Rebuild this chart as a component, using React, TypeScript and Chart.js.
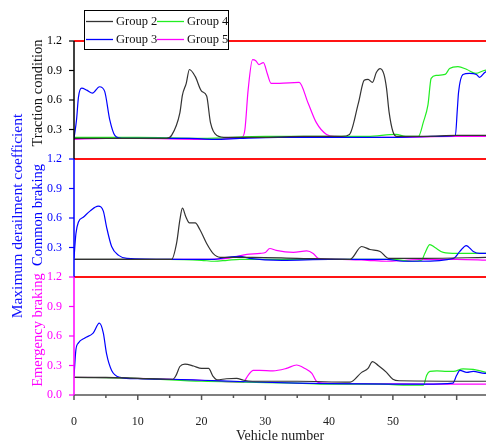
import React, { useEffect, useRef } from 'react';
import { Chart, registerables } from 'chart.js';

Chart.register(...registerables);

// ---------- data (values in each panel's own 0–1.2 units) ----------
const groupNames = ['Group 2', 'Group 3', 'Group 4', 'Group 5'];
const groupColors = ['#333333', '#0000ff', '#22ee22', '#ff00ff'];
const panelTitles = ['Emergency braking', 'Common braking', 'Traction condition'];
const panelColors = ['#ff00ff', '#0000ff', '#000000'];
const xMax = 64.6;
const panelSpan = 1.2;
const xTickStep = 5;
const yTickStep = 0.3;

type Pt = [number, number];

// Traction condition
const tractionG2: Pt[] = [[0, 0.21], [5, 0.21], [10, 0.21], [14.5, 0.21], [15.3, 0.24], [16.6, 0.47], [17.0, 0.65], [17.6, 0.77], [18.1, 0.91], [19.0, 0.84], [20.0, 0.69], [20.8, 0.64], [21.4, 0.37], [22.4, 0.24], [24, 0.22], [30, 0.22], [36, 0.23], [42, 0.23], [43.2, 0.25], [44.6, 0.57], [45.5, 0.8], [46.1, 0.81], [46.8, 0.78], [47.4, 0.88], [48.0, 0.92], [48.6, 0.86], [49.0, 0.72], [49.4, 0.48], [50.0, 0.28], [50.6, 0.23], [55, 0.23], [60, 0.24], [65, 0.24]];
const tractionG3: Pt[] = [[0, 0.21], [0.4, 0.4], [0.7, 0.63], [1.2, 0.72], [2.0, 0.7], [2.9, 0.67], [4.0, 0.735], [4.8, 0.69], [5.6, 0.4], [6.4, 0.24], [7.5, 0.21], [12, 0.21], [18, 0.21], [22, 0.2], [26, 0.21], [32, 0.22], [40, 0.22], [50, 0.22], [56, 0.23], [59.8, 0.24], [60.1, 0.5], [60.3, 0.68], [61.0, 0.86], [62.0, 0.87], [63.1, 0.86], [63.6, 0.83], [64.4, 0.88], [65, 0.9]];
const tractionG4: Pt[] = [[0, 0.22], [10, 0.22], [20, 0.21], [30, 0.23], [40, 0.23], [46, 0.23], [50.5, 0.25], [52, 0.23], [54, 0.23], [54.8, 0.38], [55.5, 0.55], [56.0, 0.82], [56.8, 0.85], [58.2, 0.86], [58.9, 0.92], [60.2, 0.94], [61.6, 0.91], [63.0, 0.87], [64.3, 0.9], [65, 0.91]];
const tractionG5: Pt[] = [[0, 0.2], [5, 0.21], [10, 0.21], [20, 0.2], [25, 0.21], [26.3, 0.22], [26.8, 0.3], [27.3, 0.7], [28.0, 1.01], [28.5, 1.0], [29.0, 0.96], [29.7, 0.98], [30.3, 0.87], [30.9, 0.77], [32.2, 0.77], [35.3, 0.78], [36.7, 0.57], [38.0, 0.37], [39.6, 0.25], [41, 0.23], [50, 0.22], [60, 0.23], [65, 0.23]];

// Common braking
const commonG2: Pt[] = [[0, 0.18], [10, 0.18], [15.3, 0.18], [16.1, 0.35], [16.6, 0.58], [17.0, 0.7], [17.55, 0.61], [18.1, 0.55], [19.0, 0.55], [19.75, 0.48], [20.8, 0.34], [21.8, 0.24], [22.9, 0.2], [28, 0.2], [35, 0.19], [43.3, 0.18], [45.1, 0.31], [46.4, 0.28], [48, 0.26], [49.3, 0.19], [55, 0.19], [65, 0.2]];
const commonG3: Pt[] = [[0, 0.19], [0.3, 0.44], [0.7, 0.56], [1.5, 0.61], [2.5, 0.67], [3.8, 0.72], [4.6, 0.67], [5.1, 0.51], [5.9, 0.31], [7.0, 0.22], [8.3, 0.19], [15, 0.18], [22, 0.18], [24, 0.2], [26, 0.21], [27.5, 0.19], [32.6, 0.17], [40, 0.18], [45, 0.18], [49, 0.18], [51.6, 0.16], [54.2, 0.16], [59.5, 0.19], [60.5, 0.26], [61.5, 0.32], [62.6, 0.26], [63.6, 0.24], [65, 0.24]];
const commonG4: Pt[] = [[0, 0.18], [15, 0.18], [20, 0.17], [22, 0.16], [24, 0.17], [26, 0.18], [35, 0.18], [45, 0.18], [50, 0.18], [53, 0.16], [54.5, 0.17], [55.0, 0.24], [55.8, 0.33], [56.6, 0.3], [57.9, 0.25], [60, 0.24], [65, 0.24]];
const commonG5: Pt[] = [[0, 0.18], [10, 0.18], [20, 0.18], [24, 0.19], [27.1, 0.23], [29.2, 0.24], [30, 0.25], [30.7, 0.29], [31.7, 0.27], [34.4, 0.25], [36.5, 0.265], [37.5, 0.24], [38.3, 0.19], [42, 0.18], [46, 0.17], [49, 0.16], [52, 0.17], [55, 0.18], [60, 0.18], [65, 0.17]];

// Emergency braking
const emergencyG2: Pt[] = [[0, 0.18], [5, 0.18], [10, 0.17], [15.5, 0.16], [16.0, 0.2], [16.6, 0.29], [17.4, 0.315], [18.75, 0.295], [20.0, 0.27], [21.1, 0.27], [21.8, 0.19], [22.4, 0.155], [23.9, 0.165], [25.5, 0.17], [26.6, 0.15], [28, 0.14], [35, 0.14], [43.3, 0.13], [45.1, 0.23], [46.1, 0.27], [46.8, 0.34], [47.7, 0.3], [49.0, 0.23], [50.0, 0.16], [51, 0.145], [65, 0.14]];
const emergencyG3: Pt[] = [[0, 0.19], [0.3, 0.46], [0.7, 0.53], [1.7, 0.58], [3.0, 0.63], [3.97, 0.73], [4.6, 0.63], [5.1, 0.42], [5.9, 0.25], [7.2, 0.18], [10, 0.165], [15, 0.16], [20, 0.15], [27, 0.135], [35, 0.12], [40, 0.115], [50, 0.11], [55, 0.11], [59.4, 0.12], [60.0, 0.2], [60.5, 0.25], [61.6, 0.23], [62.6, 0.24], [64.4, 0.22], [65, 0.22]];
const emergencyG4: Pt[] = [[0, 0.18], [10, 0.17], [20, 0.14], [27, 0.13], [35, 0.12], [40, 0.11], [48, 0.11], [52, 0.1], [54.8, 0.1], [55.3, 0.2], [55.8, 0.24], [56.9, 0.245], [58.5, 0.24], [59.5, 0.24], [61.0, 0.265], [62.6, 0.26], [64.6, 0.23], [65, 0.22]];
const emergencyG5: Pt[] = [[0, 0.18], [10, 0.17], [20, 0.15], [26.5, 0.13], [27.3, 0.2], [28.1, 0.25], [29.1, 0.25], [31.2, 0.245], [33.3, 0.27], [34.9, 0.305], [36.2, 0.27], [37.3, 0.22], [38.0, 0.14], [39, 0.12], [45, 0.115], [55, 0.11], [65, 0.11]];

const panels: Pt[][][] = [
  [emergencyG2, emergencyG3, emergencyG4, emergencyG5],
  [commonG2, commonG3, commonG4, commonG5],
  [tractionG2, tractionG3, tractionG4, tractionG5],
];

const FONT = "'Liberation Serif', 'Times New Roman', serif";

const tickIndex = (v: number) => Math.round(v / yTickStep);
const panelOfTick = (n: number) => (n <= 4 ? 0 : Math.min(2, Math.floor((n - 1) / 4)));

const decor = {
  id: 'decor',
  beforeDatasetsDraw(chart: any) {
    const { ctx, chartArea: a, scales } = chart;
    const y = scales.y;
    ctx.save();
    ctx.strokeStyle = '#ff1414';
    ctx.lineWidth = 2;
    for (let i = 1; i <= 3; i++) {
      const py = y.getPixelForValue(i * panelSpan);
      ctx.beginPath();
      ctx.moveTo(a.left, py);
      ctx.lineTo(a.right, py);
      ctx.stroke();
    }
    ctx.restore();
  },
  afterDraw(chart: any) {
    const { ctx, chartArea: a, scales } = chart;
    const x = scales.x;
    const y = scales.y;
    ctx.save();
    // x axis
    ctx.strokeStyle = '#555555';
    ctx.lineWidth = 1.5;
    ctx.beginPath();
    ctx.moveTo(a.left, a.bottom);
    ctx.lineTo(a.right, a.bottom);
    ctx.stroke();
    for (let v = 0; v <= xMax; v += xTickStep) {
      const px = x.getPixelForValue(v);
      const len = v % 10 === 0 ? 5 : 3;
      ctx.beginPath();
      ctx.moveTo(px, a.bottom);
      ctx.lineTo(px, a.bottom + len);
      ctx.stroke();
    }
    // y axis segments
    for (let i = 0; i < 3; i++) {
      ctx.strokeStyle = panelColors[i];
      ctx.lineWidth = 1.5;
      ctx.beginPath();
      ctx.moveTo(a.left, y.getPixelForValue(i * panelSpan));
      ctx.lineTo(a.left, y.getPixelForValue((i + 1) * panelSpan));
      ctx.stroke();
    }
    for (let n = 0; n <= 12; n++) {
      const py = y.getPixelForValue(n * yTickStep);
      ctx.strokeStyle = panelColors[panelOfTick(n)];
      ctx.lineWidth = 1.2;
      ctx.beginPath();
      ctx.moveTo(a.left - 5, py);
      ctx.lineTo(a.left, py);
      ctx.stroke();
    }
    // y titles
    const vtext = (t: string, cx: number, cy: number, color: string, size: number) => {
      ctx.save();
      ctx.translate(cx, cy);
      ctx.rotate(-Math.PI / 2);
      ctx.fillStyle = color;
      ctx.font = `${size}px ${FONT}`;
      ctx.textAlign = 'center';
      ctx.textBaseline = 'middle';
      ctx.fillText(t, 0, 0);
      ctx.restore();
    };
    vtext('Maximum derailment coefficient', 18, 216, '#1010ff', 15.5);
    const titleY = [330, 215, 93];
    for (let i = 0; i < 3; i++) vtext(panelTitles[i], 38, titleY[i], panelColors[i] === '#000000' ? '#111111' : panelColors[i], 14.5);
    // legend
    const lx = 84, ly = 10, lw = 144, lh = 39;
    ctx.fillStyle = '#ffffff';
    ctx.fillRect(lx, ly, lw, lh);
    ctx.strokeStyle = '#000000';
    ctx.lineWidth = 1;
    ctx.strokeRect(lx + 0.5, ly + 0.5, lw, lh);
    ctx.font = `12.5px ${FONT}`;
    ctx.textBaseline = 'middle';
    ctx.textAlign = 'left';
    const cols = [86, 157];
    const rows = [21.5, 39.5];
    for (let g = 0; g < 4; g++) {
      const c = g >= 2 ? 1 : 0;
      const r = g % 2;
      ctx.strokeStyle = groupColors[g];
      ctx.lineWidth = 1.3;
      ctx.beginPath();
      ctx.moveTo(cols[c], rows[r]);
      ctx.lineTo(cols[c] + 27, rows[r]);
      ctx.stroke();
      ctx.fillStyle = '#111111';
      ctx.fillText(groupNames[g], cols[c] + 30, rows[r] + 0.5);
    }
    ctx.restore();
  },
};

export default function App() {
  const ref = useRef<HTMLCanvasElement>(null);
  useEffect(() => {
    if (!ref.current) return;
    const datasets: any[] = [];
    panels.forEach((series, p) => {
      series.forEach((pts, g) => {
        datasets.push({
          label: `${groupNames[g]} ${panelTitles[p]}`,
          data: pts.map(([vx, vy]) => ({ x: vx, y: vy + p * panelSpan })),
          borderColor: groupColors[g],
          borderWidth: 1.2,
          pointRadius: 0,
          fill: false,
          cubicInterpolationMode: 'monotone',
        });
      });
    });
    const chart = new Chart(ref.current, {
      type: 'line',
      data: { datasets },
      options: {
        responsive: false,
        animation: false,
        layout: { padding: { left: 0, right: 0, top: 41, bottom: 0 } },
        plugins: { legend: { display: false }, tooltip: { enabled: false } },
        scales: {
          x: {
            type: 'linear',
            min: 0,
            max: xMax,
            afterFit: (s: any) => { s.height = 52; },
            afterBuildTicks: (s: any) => {
              s.ticks = s.ticks.filter((t: any) => Math.abs(t.value / xTickStep - Math.round(t.value / xTickStep)) < 1e-6);
            },
            grid: { display: false },
            border: { display: false },
            ticks: {
              stepSize: xTickStep,
              autoSkip: false,
              maxRotation: 0,
              padding: 12,
              color: '#222222',
              font: { family: FONT, size: 12 },
              callback: (v: any) => (Math.round(v) % 10 === 0 ? String(Math.round(v)) : ''),
            },
            title: {
              display: true,
              text: 'Vehicle number',
              color: '#222222',
              font: { family: FONT, size: 14 },
              padding: { top: 0, bottom: 2 },
            },
          },
          y: {
            type: 'linear',
            min: 0,
            max: 3 * panelSpan,
            afterFit: (s: any) => { s.width = 74; },
            grid: { display: false },
            border: { display: false },
            ticks: {
              stepSize: yTickStep,
              padding: 4,
              font: { family: FONT, size: 12 },
              color: (c: any) => panelColors[panelOfTick(tickIndex(c.tick.value))],
              callback: (v: any) => {
                const n = tickIndex(Number(v));
                if (n === 0) return '0.0';
                const m = n % 4;
                return m === 0 ? '1.2' : ((m * yTickStep)).toFixed(1);
              },
            },
          },
        },
      },
      plugins: [decor],
    });
    return () => chart.destroy();
  }, []);
  return (
    <div style={{ position: 'fixed', left: 0, top: 0, width: 486, height: 447, background: '#fff' }}>
      <canvas ref={ref} width={486} height={447} style={{ display: 'block', width: 486, height: 447 }} />
    </div>
  );
}
